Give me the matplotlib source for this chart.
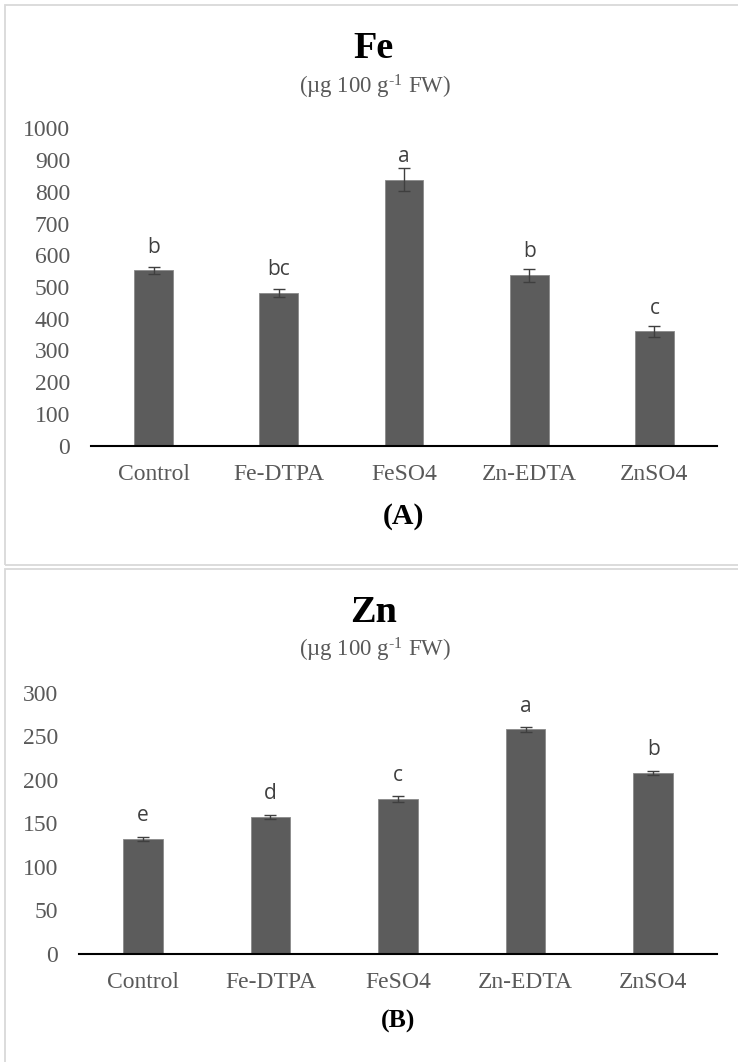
import matplotlib
matplotlib.use("Agg")
import matplotlib.pyplot as plt
from matplotlib.patches import Rectangle

plt.rcParams["mathtext.fontset"] = "custom"
plt.rcParams["mathtext.rm"] = "Liberation Serif"
plt.rcParams["mathtext.it"] = "Liberation Serif:italic"
plt.rcParams["mathtext.bf"] = "Liberation Serif:bold"

treatments = ["Control", "Fe-DTPA", "FeSO4", "Zn-EDTA", "ZnSO4"]

fe_mean = [552, 481, 838, 537, 360]
fe_err = [12, 13, 36, 20, 16]
fe_letters = ["b", "bc", "a", "b", "c"]
fe_ticks = [0, 100, 200, 300, 400, 500, 600, 700, 800, 900, 1000]

zn_mean = [132, 157, 178, 258, 208]
zn_err = [2, 2, 3, 2.5, 2]
zn_letters = ["e", "d", "c", "a", "b"]
zn_ticks = [0, 50, 100, 150, 200, 250, 300]

W, H = 738, 1062
SERIF = "Liberation Serif"
TXT = "#595959"
BAR = "#5c5c5c"
UNIT = "(µg 100 g$^{\\mathrm{\u2010}1}$ FW)"


def fx(px):
    return px / W


def fy(py):
    return 1 - py / H


def bar_panel(fig, rect, means, errs, letters, ticks):
    ax = fig.add_axes(rect)
    x = range(len(treatments))
    ax.bar(x, means, width=0.31, color=BAR, edgecolor="#8a8a8a", linewidth=0.6,
           yerr=errs, ecolor="#3f3f3f", capsize=4.5,
           error_kw={"elinewidth": 1.0, "capthick": 1.0}, zorder=2)
    for i, (m, lab) in enumerate(zip(means, letters)):
        ax.annotate(lab, (i, m), xytext=(0, 12.8), textcoords="offset points",
                    ha="center", va="baseline", fontsize=15,
                    family="Open Sans", color="#404040")
    ax.set_xlim(-0.5, len(treatments) - 0.5)
    ax.set_ylim(ticks[0], ticks[-1])
    ax.set_yticks(ticks)
    ax.set_xticks(list(x))
    ax.set_xticklabels(treatments)
    for s in ["top", "right", "left"]:
        ax.spines[s].set_visible(False)
    ax.spines["bottom"].set_color("black")
    ax.spines["bottom"].set_linewidth(1.5)
    ax.tick_params(axis="y", length=0, pad=15, labelsize=17, labelcolor=TXT)
    ax.tick_params(axis="x", length=0, pad=13.5, labelsize=17, labelcolor=TXT)
    for lab in ax.get_xticklabels() + ax.get_yticklabels():
        lab.set_family(SERIF)
    ax.patch.set_alpha(0)
    return ax


fig = plt.figure(figsize=(W / 100, H / 100), dpi=100)
fig.patch.set_facecolor("white")

# light grey frames around each chart
fig.add_artist(Rectangle((fx(4.5), fy(565)), fx(760), fy(4.5) - fy(565),
                         transform=fig.transFigure, fill=False,
                         edgecolor="#d9d9d9", linewidth=1.3))
fig.add_artist(Rectangle((fx(4.5), fy(1090)), fx(760), fy(569) - fy(1090),
                         transform=fig.transFigure, fill=False,
                         edgecolor="#d9d9d9", linewidth=1.3))

# (A) iron
bar_panel(fig, [fx(91), fy(445.7), fx(717 - 91), fy(128.3) - fy(445.7)],
          fe_mean, fe_err, fe_letters, fe_ticks)
fig.text(fx(374), fy(48), "Fe", ha="center", va="center", family=SERIF,
         fontweight="bold", fontsize=27.5, color="black")
fig.text(fx(375), fy(87), UNIT, ha="center", va="center", family=SERIF,
         fontsize=16.5, color=TXT)
fig.text(fx(404), fy(517), "(A)", ha="center", va="center", family=SERIF,
         fontweight="bold", fontsize=21.5, color="black")

# (B) zinc
bar_panel(fig, [fx(79), fy(953.5), fx(717 - 79), fy(693) - fy(953.5)],
          zn_mean, zn_err, zn_letters, zn_ticks)
fig.text(fx(374), fy(613), "Zn", ha="center", va="center", family=SERIF,
         fontweight="bold", fontsize=27.5, color="black")
fig.text(fx(375), fy(650), UNIT, ha="center", va="center", family=SERIF,
         fontsize=16.5, color=TXT)
fig.text(fx(398), fy(1021.7), "(B)", ha="center", va="center", family=SERIF,
         fontweight="bold", fontsize=18.5, color="black")

fig.savefig("out.png", dpi=100, facecolor="white")
plt.close(fig)
